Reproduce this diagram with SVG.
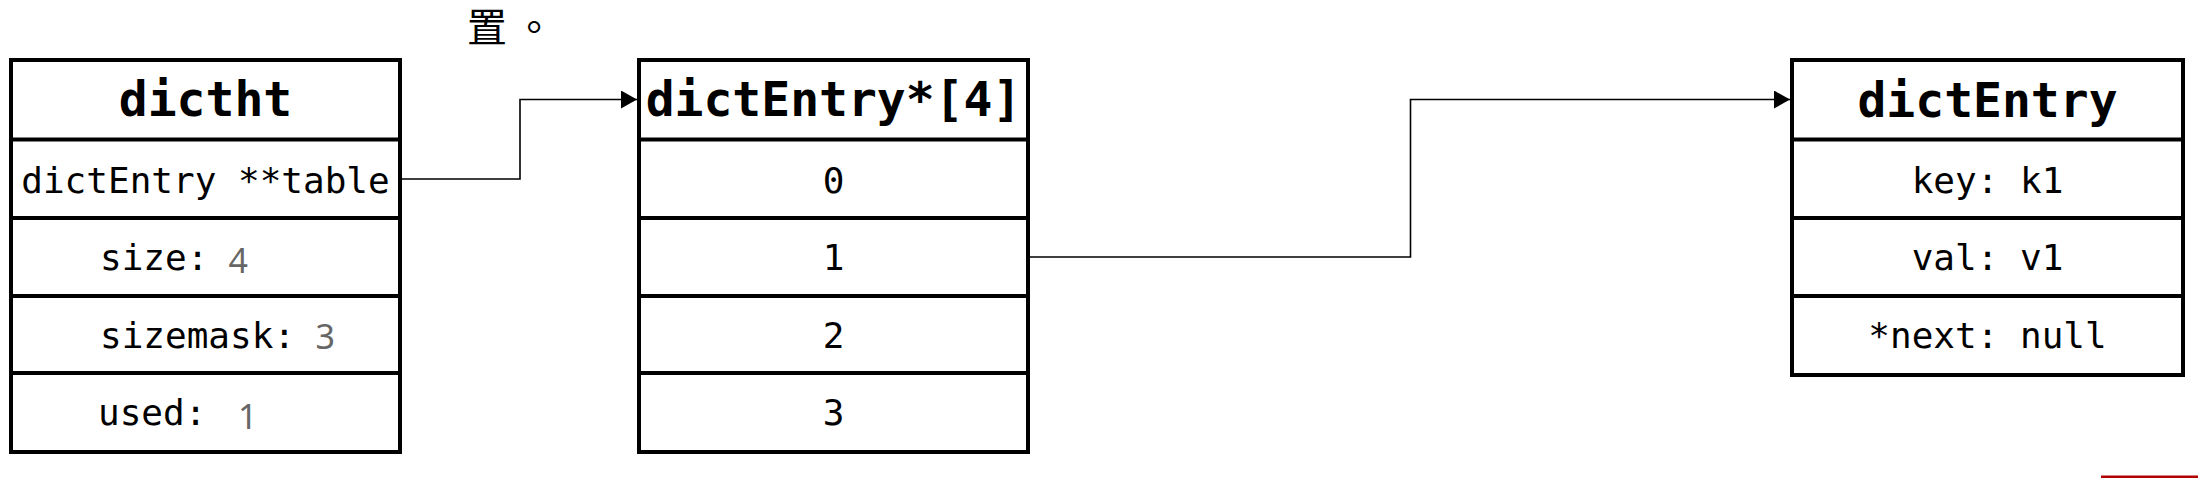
<svg xmlns="http://www.w3.org/2000/svg" width="2198" height="478" viewBox="0 0 2198 478">
<style>
.box{fill:#fff;stroke:#000;stroke-width:4}
.sep{stroke:#000;stroke-width:4;fill:none}
.hd{font-family:"DejaVu Sans Mono","Liberation Mono",monospace;font-weight:bold;font-size:48px;fill:#000;text-anchor:middle}
.tx{font-family:"DejaVu Sans Mono","Liberation Mono",monospace;font-size:36px;fill:#000}
.mid{text-anchor:middle}
.num{font-family:"Noto Sans","DejaVu Sans",sans-serif;font-size:34px;fill:#666}
.conn{fill:none;stroke:#000;stroke-width:1.6}
.cjk{font-family:"Noto Sans CJK TC","Noto Sans CJK SC",sans-serif;font-size:40px;fill:#000}
</style>
<defs>
<marker id="arr" markerUnits="userSpaceOnUse" markerWidth="17" markerHeight="19" refX="16" refY="9" orient="auto">
<path d="M0,0 L16,9 L0,18 z" fill="#000"/>
</marker>
</defs>
<rect width="2198" height="478" fill="#fff"/>
<text class="cjk" x="467 514" y="42">置。</text>
<g id="dictht">
<rect class="box" x="11" y="60" width="389" height="392"/>
<path class="sep" d="M11 139.5H400M11 218H400M11 296H400M11 373H400"/>
<text class="hd" x="205.5" y="116">dictht</text>
<text class="tx mid" x="205.5" y="193">dictEntry **table</text>
<text class="tx" x="100" y="270">size:</text>
<text class="num" x="228.5" y="272.7">4</text>
<text class="tx" x="100" y="348">sizemask:</text>
<text class="num" x="315.5" y="349.3">3</text>
<text class="tx" x="98" y="425">used:</text>
<text class="num" x="238" y="429">1</text>
</g>
<g id="table">
<rect class="box" x="639" y="60" width="389" height="392"/>
<path class="sep" d="M639 139.5H1028M639 218H1028M639 296H1028M639 373H1028"/>
<text class="hd" x="833.5" y="116">dictEntry*[4]</text>
<text class="tx mid" x="833.5" y="193">0</text>
<text class="tx mid" x="833.5" y="270">1</text>
<text class="tx mid" x="833.5" y="348">2</text>
<text class="tx mid" x="833.5" y="425">3</text>
</g>
<g id="dictEntry">
<rect class="box" x="1792" y="60" width="391" height="315"/>
<path class="sep" d="M1792 139.5H2183M1792 218H2183M1792 296H2183"/>
<text class="hd" x="1987.5" y="116.5">dictEntry</text>
<text class="tx mid" x="1987.5" y="193">key: k1</text>
<text class="tx mid" x="1987.5" y="269.5">val: v1</text>
<text class="tx mid" x="1987.5" y="347.5">*next: null</text>
</g>
<g id="connectors">
<path class="conn" d="M402 179H520V99.5H637" marker-end="url(#arr)"/>
<path class="conn" d="M1030 257H1410.5V99.5H1790" marker-end="url(#arr)"/>
</g>
<rect x="2101" y="475.5" width="97" height="2.5" fill="#b00000"/>
</svg>
